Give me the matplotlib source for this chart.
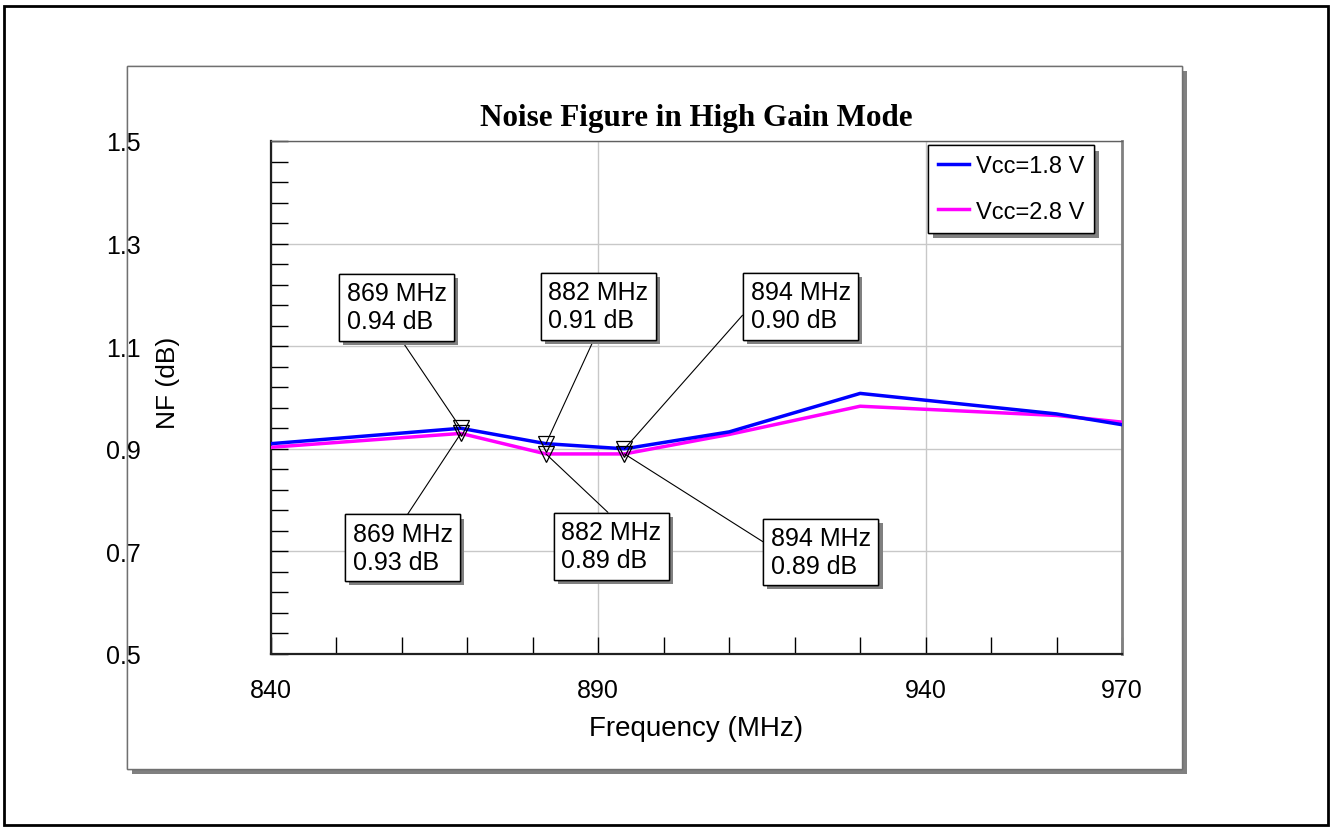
import matplotlib
matplotlib.use("Agg")
import matplotlib.pyplot as plt
import matplotlib.patheffects as pe
from matplotlib.patches import Rectangle

# Noise figure vs. frequency, high gain mode
freq = [840, 869, 882, 894, 910, 930, 960, 970]
nf_18 = [0.91, 0.94, 0.91, 0.90, 0.933, 1.008, 0.968, 0.947]
nf_28 = [0.903, 0.93, 0.89, 0.89, 0.928, 0.983, 0.965, 0.952]
marked = [1, 2, 3]   # indices of the annotated points

x_ticks = [840, 890, 940, 970]
y_ticks = [0.5, 0.7, 0.9, 1.1, 1.3, 1.5]

plt.rcParams["font.family"] = ["Liberation Sans", "DejaVu Sans"]

W, H = 1331, 829
fig = plt.figure(figsize=(W / 100, H / 100), dpi=100)


def px_rect(x0, y0, x1, y1):
    # pixel box (top-left origin) -> figure fraction
    return x0 / W, 1 - y1 / H, (x1 - x0) / W, (y1 - y0) / H


shadow = lambda o: [pe.withSimplePatchShadow(offset=(o, -o), shadow_rgbFace="#808080", alpha=1)]

# outer frame and the gray chart panel
l, b, w, h = px_rect(4, 7, 1328, 826)
fig.add_artist(Rectangle((l, b), w, h, transform=fig.transFigure, fill=False,
                         edgecolor="black", lw=2, zorder=-2))
l, b, w, h = px_rect(127, 67, 1182, 770)
panel = Rectangle((l, b), w, h, transform=fig.transFigure, facecolor="white",
                  edgecolor="#707070", lw=1, zorder=-1)
panel.set_path_effects(shadow(3.5) + [pe.Normal()])
fig.add_artist(panel)

ax = fig.add_axes(px_rect(271, 142, 1122, 655))

ax.plot(freq, nf_28, color="#ff00ff", lw=2.5, label="Vcc=2.8 V", zorder=3)
ax.plot(freq, nf_18, color="#0000ff", lw=2.5, label="Vcc=1.8 V", zorder=4)

for series in (nf_18, nf_28):
    ax.plot([freq[i] for i in marked], [series[i] for i in marked], "v",
            ms=11, mfc="none", mec="black", mew=0.9, zorder=5)

# marker callouts: (index, series, text box centre, leader start on the box)
callouts = [
    (1, nf_18, (859.2, 1.176), (0.5, 0.0)),
    (2, nf_18, (890.0, 1.178), (0.49, 0.0)),
    (3, nf_18, (920.9, 1.178), (0.0, 0.5)),
    (1, nf_28, (860.1, 0.707), (0.5, 1.0)),
    (2, nf_28, (892.0, 0.710), (0.55, 1.0)),
    (3, nf_28, (924.0, 0.699), (0.0, 0.6)),
]
for i, series, pos, rel in callouts:
    ann = ax.annotate(f"{freq[i]} MHz\n{series[i]:.2f} dB", xy=(freq[i], series[i]),
                      xytext=pos, ha="center", va="center", multialignment="left",
                      fontsize=18, zorder=6,
                      bbox=dict(boxstyle="square,pad=0.3", fc="white", ec="black", lw=1),
                      arrowprops=dict(arrowstyle="-", color="black", lw=0.8,
                                      shrinkA=0, shrinkB=0, relpos=rel))
    ann.get_bbox_patch().set_path_effects(shadow(3) + [pe.Normal()])

ax.set_xlim(840, 970)
ax.set_ylim(0.5, 1.5)
ax.set_xticks(x_ticks)
ax.set_xticks(range(850, 970, 10), minor=True)
ax.set_yticks(y_ticks)
ax.set_yticks([0.5 + 0.04 * k for k in range(26)], minor=True)
ax.set_yticklabels([f"{v:.1f}" for v in y_ticks])
ax.tick_params(which="both", direction="in", length=12, width=1, colors="black",
               labelsize=18, top=False, right=False)
ax.tick_params(axis="y", pad=94)
ax.tick_params(axis="x", pad=17)
ax.grid(True, which="major", color="#c8c8c8", lw=1)
ax.set_axisbelow(True)

for side in ("left", "bottom"):
    ax.spines[side].set_linewidth(1.6)
    ax.spines[side].set_color("#202020")
ax.spines["top"].set_linewidth(1)
ax.spines["top"].set_color("#606060")
ax.spines["right"].set_linewidth(2)
ax.spines["right"].set_color("#808080")

ax.set_xlabel("Frequency (MHz)", fontsize=20)
ax.set_ylabel("NF (dB)", fontsize=19)
ax.xaxis.set_label_coords(0.5, -0.118)
ax.yaxis.set_label_coords(-0.107, 0.53)

ax.text(0.5, 1 + 16 / 513, "Noise Figure in High Gain Mode", transform=ax.transAxes,
        ha="center", va="baseline", fontsize=22.4, fontweight="bold",
        family=["Liberation Serif", "DejaVu Serif"])

handles, labels = ax.get_legend_handles_labels()
leg = ax.legend(handles[::-1], labels[::-1], loc="upper right",
                bbox_to_anchor=(0.967, 0.992), borderaxespad=0, fontsize=17,
                handlelength=1.3, handletextpad=0.3, labelspacing=1.0, borderpad=0.42,
                fancybox=False, framealpha=1, edgecolor="black")
leg.get_frame().set_linewidth(1)
leg.get_frame().set_path_effects(shadow(4) + [pe.Normal()])

fig.savefig("out.png", dpi=100)
